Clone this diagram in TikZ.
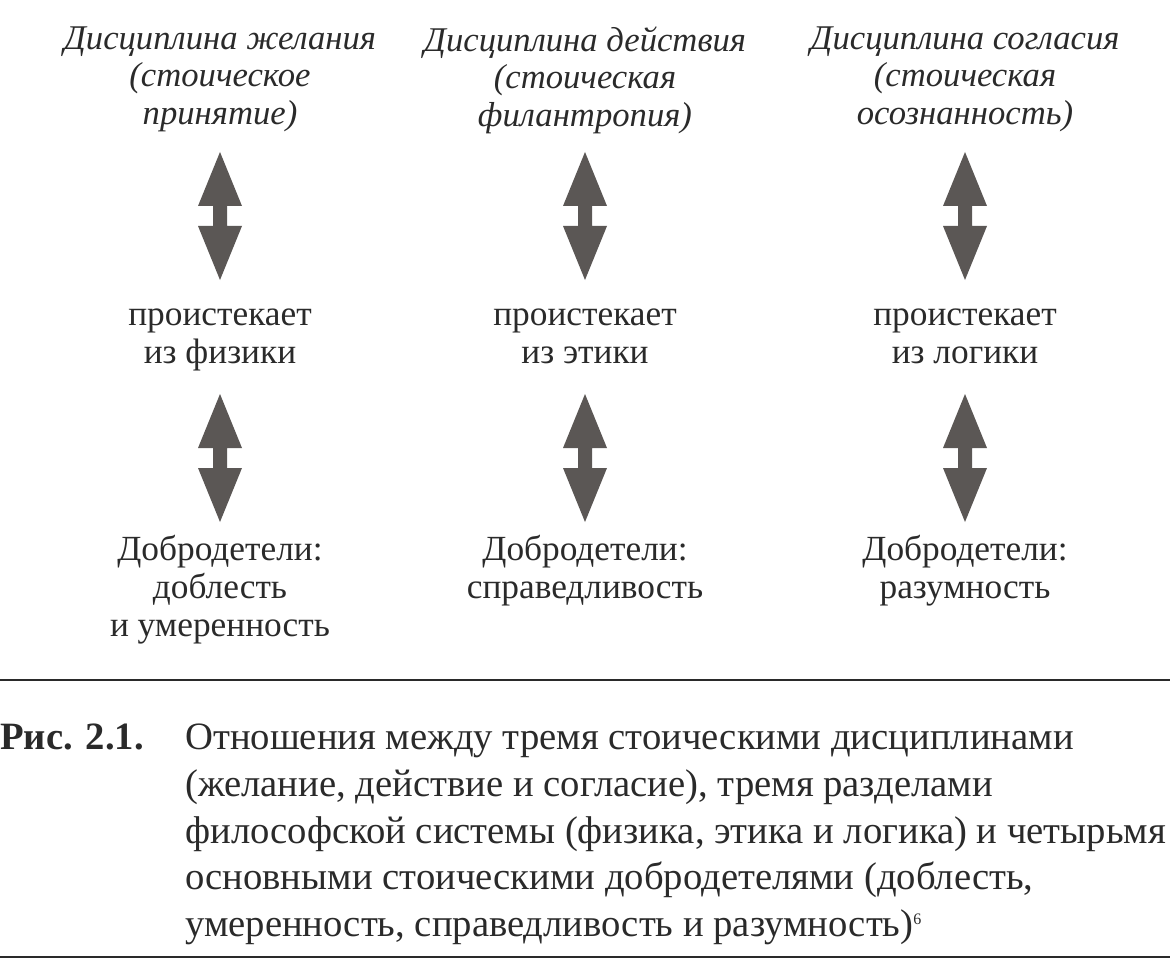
\documentclass[tikz,border=0pt]{standalone}
\usepackage{fontspec}
\setmainfont{Liberation Serif}
\definecolor{arr}{HTML}{5B5755}
\definecolor{txt}{HTML}{2A2A2A}
\begin{document}
\begin{tikzpicture}[x=0.75pt,y=-0.75pt,
  toptext/.style={font=\fontsize{26}{28}\selectfont\itshape,align=center,text=txt,anchor=north},
  midtext/.style={font=\fontsize{26.5}{28.5}\selectfont,align=center,text=txt,anchor=north},
  captext/.style={font=\fontsize{29}{35}\selectfont,align=left,text=txt,anchor=north west,inner sep=0pt},
  pics/dblarrow/.style={code={
    \fill[arr] (0,-64) -- (22,-10) -- (7,-10) -- (7,10) -- (22,10) -- (0,64) -- (-22,10) -- (-7,10) -- (-7,-10) -- (-22,-10) -- cycle;}}]
\useasboundingbox (0,0) rectangle (1170,959);
\foreach \x/\n in {220/a,585/b,965/c}{
  \pic at (\x,216) {dblarrow};
  \pic at (\x,458) {dblarrow};
}
\node[toptext] (t1) at (220,22) {Дисциплина желания\\(стоическое\\принятие)};
\node[toptext] (t2) at (585,22) {Дисциплина действия\\(стоическая\\филантропия)};
\node[toptext] (t3) at (965,22) {Дисциплина согласия\\(стоическая\\осознанность)};
\node[midtext] (m1) at (220,304) {проистекает\\из физики};
\node[midtext] (m2) at (585,304) {проистекает\\из этики};
\node[midtext] (m3) at (965,304) {проистекает\\из логики};
\node[midtext] (b1) at (220,530) {Добродетели:\\доблесть\\и умеренность};
\node[midtext] (b2) at (585,530) {Добродетели:\\справедливость};
\node[midtext] (b3) at (965,530) {Добродетели:\\разумность};
\draw[line width=2.2pt,color=txt] (0,680) -- (1170,680);
\node[captext] (fig) at (0,724) {\textbf{\textsc{Рис. 2.1.}}};
\node[captext] (c) at (185,724) {Отношения между тремя стоическими дисциплинами\\(желание, действие и согласие), тремя разделами\\философской системы (физика, этика и логика) и четырьмя\\основными стоическими добродетелями (доблесть,\\умеренность, справедливость и разумность)\textsuperscript{\fontsize{12}{12}\selectfont 6}};
\draw[line width=1.5pt,color=txt] (0,957) -- (1170,957);
\end{tikzpicture}
\end{document}
